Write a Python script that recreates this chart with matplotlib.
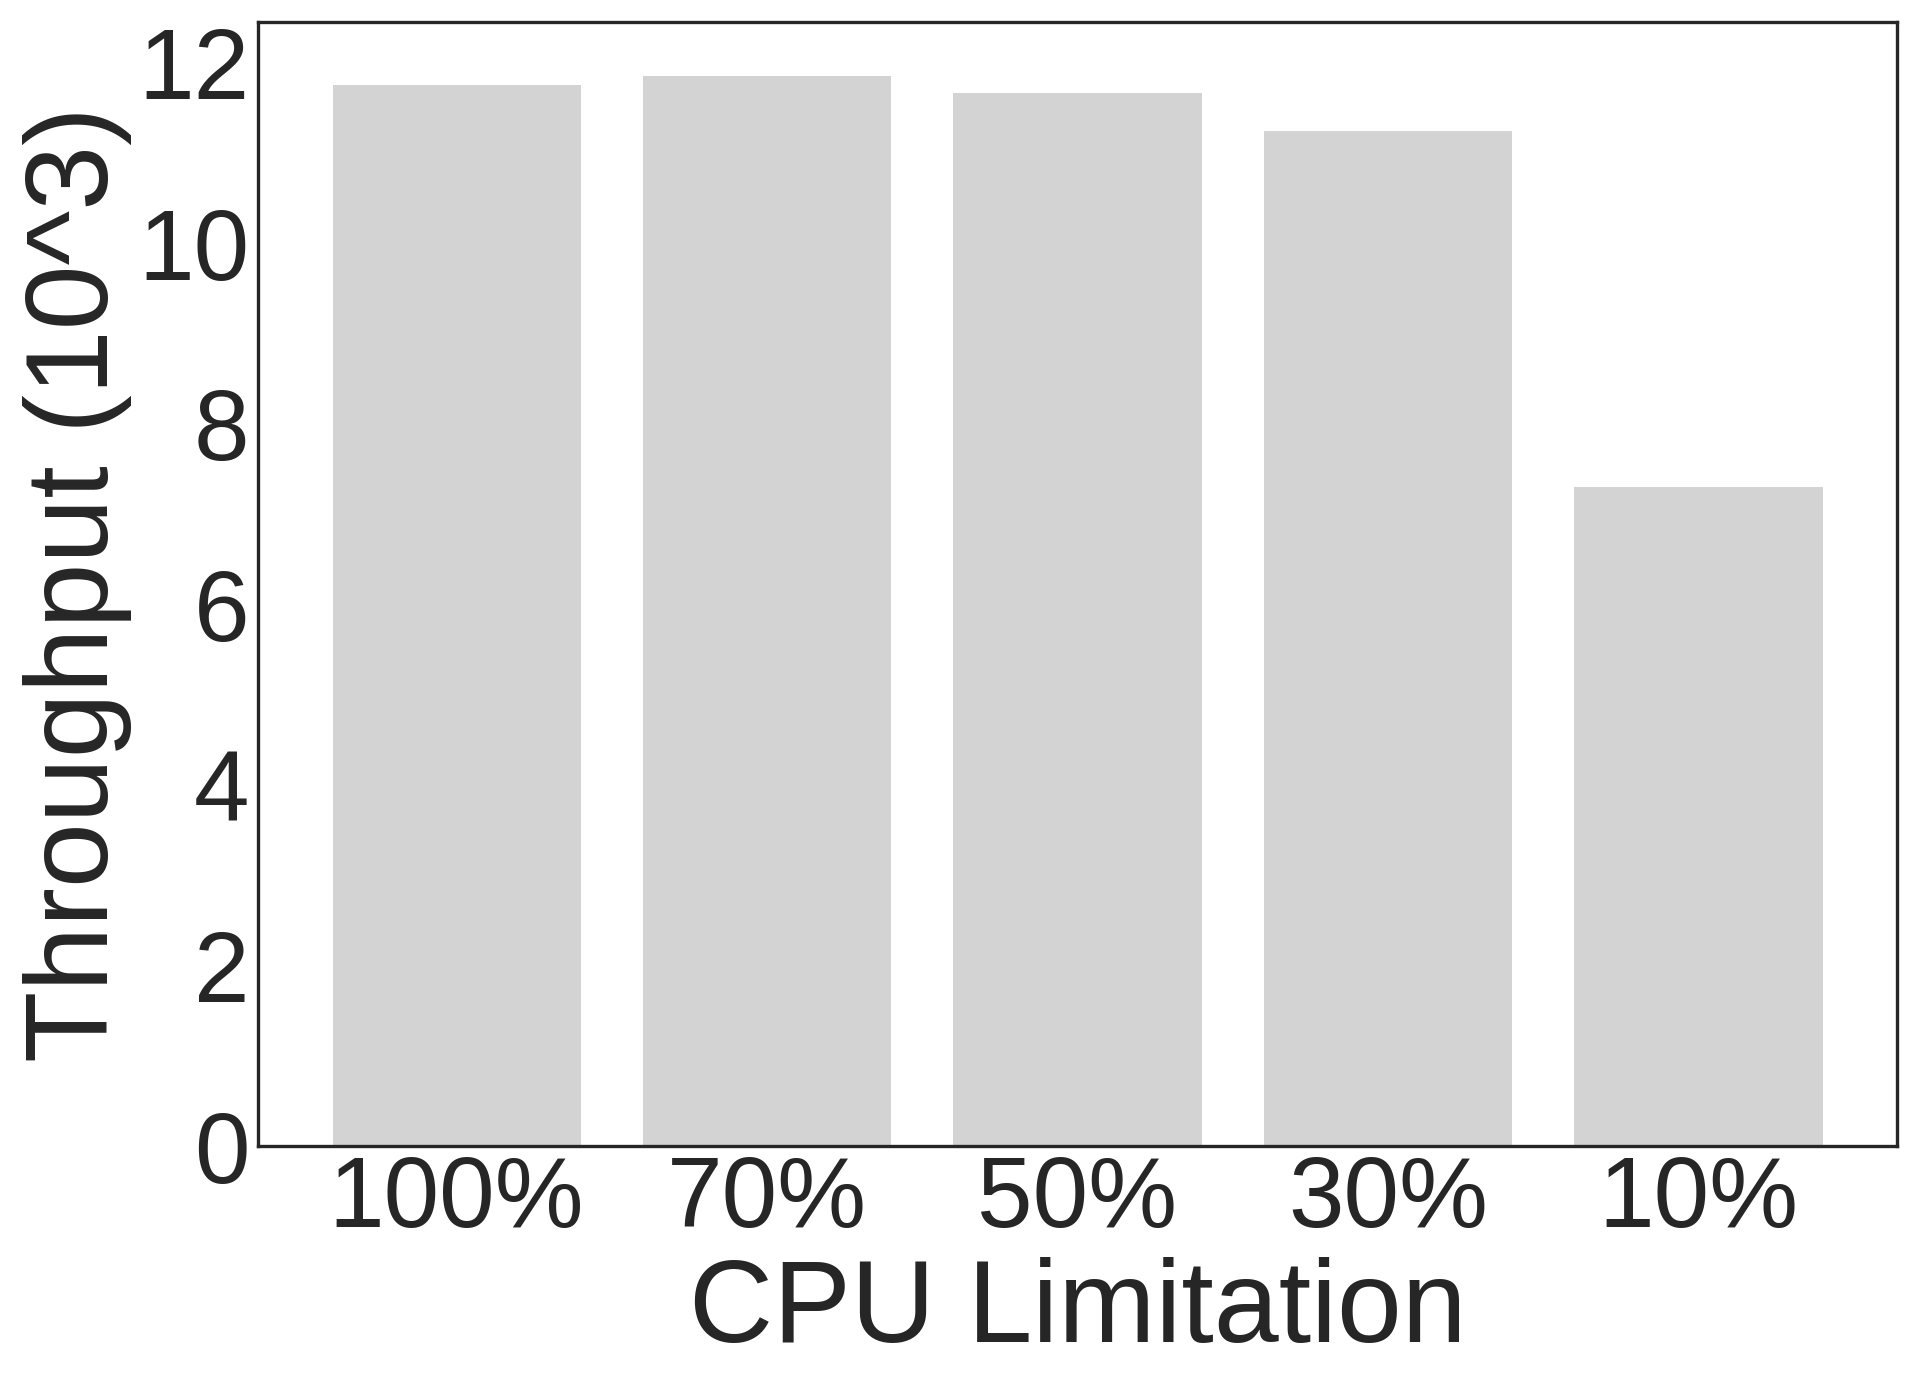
import matplotlib
matplotlib.use('Agg')
import matplotlib.pyplot as plt

# CPU limitation vs throughput (x10^3)
cpu_limits = ['100%', '70%', '50%', '30%', '10%']
throughput = [11.75, 11.86, 11.67, 11.25, 7.30]
y_ticks = [0, 2, 4, 6, 8, 10, 12]

plt.style.use('seaborn-v0_8-white')
plt.rcParams['font.family'] = ['Liberation Sans', 'DejaVu Sans']
plt.rcParams['text.color'] = '#262626'
plt.rcParams['axes.labelcolor'] = '#262626'
plt.rcParams['xtick.color'] = '#262626'
plt.rcParams['ytick.color'] = '#262626'

fig = plt.figure(figsize=(6.4, 1388 / 300), dpi=300)
ax = fig.add_axes([258 / 1920, 1 - 1146 / 1388, (1897 - 258) / 1920, (1146 - 22) / 1388])

ax.bar(range(len(cpu_limits)), throughput, width=0.8, color='lightgray')

ax.set_xticks(range(len(cpu_limits)))
ax.set_xticklabels(cpu_limits)
ax.set_yticks(y_ticks)
ax.tick_params(axis='both', labelsize=24, length=0, pad=2)

ax.set_xlabel('CPU Limitation', fontsize=28, labelpad=2)
ax.set_ylabel('Throughput (10^3)', fontsize=28, labelpad=1.5)

for spine in ax.spines.values():
    spine.set_color('#262626')
    spine.set_linewidth(0.8)

fig.savefig('out.png', dpi=300)
plt.close()
